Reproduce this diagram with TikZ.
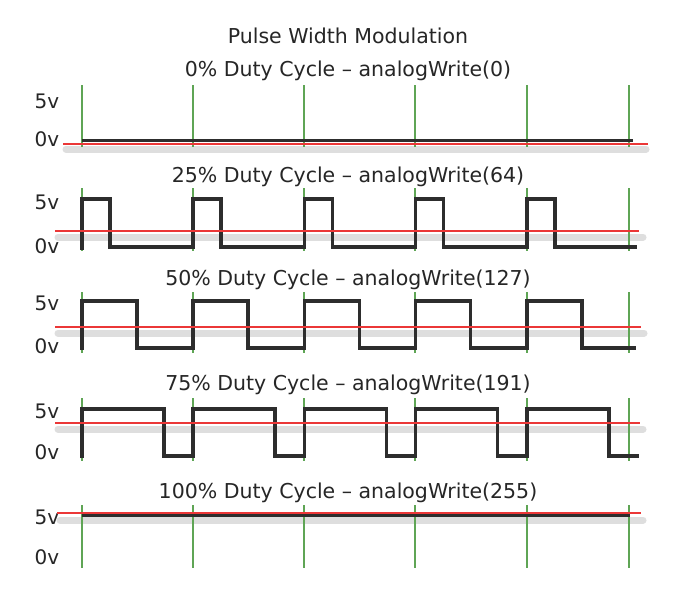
\documentclass[tikz,border=0pt]{standalone}
\usepackage{fontspec}
\setmainfont{DejaVu Sans}
\definecolor{gridgreen}{RGB}{95,165,85}
\definecolor{avgred}{RGB}{235,55,55}
\definecolor{wavegray}{RGB}{45,45,45}
\definecolor{shadowgray}{RGB}{222,222,222}
\tikzset{
  marker/.style={draw=gridgreen,line width=1.8pt},
  wave/.style={draw=wavegray,line width=3.6pt,line join=miter},
  average/.style={draw=avgred,line width=2pt},
  shadow/.style={draw=shadowgray,line width=7pt,line cap=round},
  caption/.style={font=\fontsize{20.5}{24}\selectfont,text=black!85,inner sep=0pt},
  level/.style={font=\fontsize{20}{24}\selectfont,text=black!85,inner sep=0pt}
}
% level labels of one panel: #1 name, #2 5v y, #3 0v y
\newcommand{\pwmlevels}[3]{%
  \node[level] (#1hi) at (47,#2) {5v};
  \node[level] (#1lo) at (47,#3) {0v};}
\begin{document}
\begin{tikzpicture}[x=1pt,y=-1pt]
\useasboundingbox[fill=white] (0,0) rectangle (698,608);

\node[caption] (title) at (348,36) {Pulse Width Modulation};

% 0% duty
\node[caption] (cap0) at (348,71) {0\% Duty Cycle – analogWrite(0)};
\pwmlevels{p0}{101}{139}
\draw[shadow] (66,149) -- (646,149);
\foreach \g in {82,193,304,415,527,629}
  \draw[marker] (\g,85) -- (\g,147);
\draw[wave] (82,140.5) -- (633,140.5);
\draw[average] (63,144) -- (648,144);

% 25% duty
\node[caption] (cap25) at (348,177) {25\% Duty Cycle – analogWrite(64)};
\pwmlevels{p25}{202}{246}
\draw[shadow] (58,237) -- (643,237);
\foreach \g in {82,193,304,415,527,629}
  \draw[marker] (\g,188) -- (\g,251);
\draw[wave] (82,250) \foreach \k in {0,...,4}{
  -- (82+111.2*\k,247) -- (82+111.2*\k,199) -- (110+111.2*\k,199) -- (110+111.2*\k,247)} -- (637,247);
\draw[average] (55,231) -- (639,231);

% 50% duty
\node[caption] (cap50) at (348,280) {50\% Duty Cycle – analogWrite(127)};
\pwmlevels{p50}{303}{346}
\draw[shadow] (58,333) -- (644,333);
\foreach \g in {82,193,304,415,527,629}
  \draw[marker] (\g,292) -- (\g,353);
\draw[wave] (82,350) \foreach \k in {0,...,4}{
  -- (82+111.2*\k,348) -- (82+111.2*\k,301) -- (137+111.2*\k,301) -- (137+111.2*\k,348)} -- (636,348);
\draw[average] (55,327) -- (641,327);

% 75% duty
\node[caption] (cap75) at (348,385) {75\% Duty Cycle – analogWrite(191)};
\pwmlevels{p75}{411}{452}
\draw[shadow] (58,429) -- (643,429);
\foreach \g in {82,193,304,415,527,629}
  \draw[marker] (\g,398) -- (\g,461);
\draw[wave] (82,458) \foreach \k in {0,...,4}{
  -- (82+111.2*\k,456) -- (82+111.2*\k,409) -- (164+111.2*\k,409) -- (164+111.2*\k,456)} -- (639,456);
\draw[average] (55,423) -- (640,423);

% 100% duty
\node[caption] (cap100) at (348,493) {100\% Duty Cycle – analogWrite(255)};
\pwmlevels{p100}{517}{557}
\draw[shadow] (60,520) -- (643,520);
\foreach \g in {82,193,304,415,527,629}
  \draw[marker] (\g,505) -- (\g,568);
\draw[wave] (82,515) -- (630,515);
\draw[average] (57,513) -- (641,513);
\end{tikzpicture}
\end{document}
